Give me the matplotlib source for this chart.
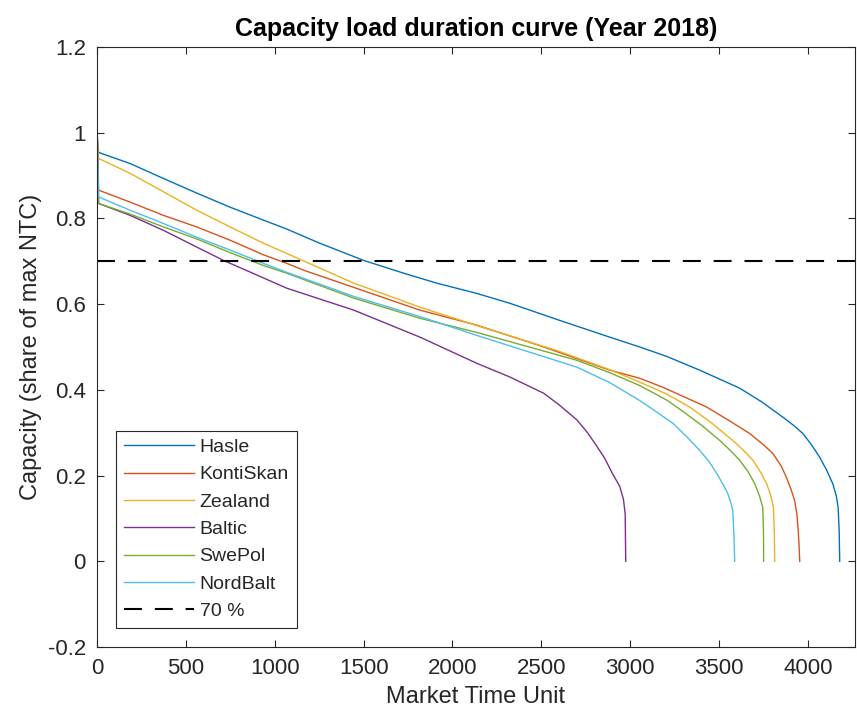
import matplotlib
matplotlib.use('Agg')
import matplotlib.pyplot as plt
from matplotlib import font_manager

# Data (market time units vs share of max NTC)
hasle_x = [0, 9, 187, 375, 562, 750, 937, 1069, 1254, 1501, 1727, 1912, 2137, 2323,
           2604, 2885, 3054, 3206, 3391, 3616, 3740, 3860, 3920, 3972, 4020, 4066,
           4105, 4140, 4160, 4170, 4176, 4179]
hasle_y = [1.0, 0.954, 0.928, 0.893, 0.859, 0.826, 0.796, 0.775, 0.742, 0.702, 0.672,
           0.649, 0.625, 0.602, 0.562, 0.523, 0.50, 0.478, 0.446, 0.404, 0.372, 0.336,
           0.317, 0.298, 0.272, 0.243, 0.213, 0.181, 0.152, 0.126, 0.07, 0.0]

kontiskan_x = [0, 9, 187, 375, 562, 750, 937, 1069, 1164, 1445, 1817, 2137, 2514, 2885,
               3054, 3184, 3430, 3550, 3673, 3750, 3804, 3850, 3879, 3905, 3925, 3938,
               3944, 3950, 3954]
kontiskan_y = [1.0, 0.866, 0.838, 0.807, 0.78, 0.749, 0.715, 0.695, 0.679, 0.639, 0.586,
               0.551, 0.5, 0.446, 0.427, 0.406, 0.36, 0.33, 0.298, 0.272, 0.251, 0.222,
               0.196, 0.168, 0.142, 0.11, 0.08, 0.04, 0.0]

zealand_x = [0, 9, 187, 375, 562, 750, 937, 1069, 1445, 1817, 2137, 2600, 2885, 3054,
             3206, 3335, 3460, 3577, 3640, 3690, 3735, 3768, 3790, 3806, 3811, 3813]
zealand_y = [1.0, 0.94, 0.905, 0.862, 0.819, 0.78, 0.742, 0.718, 0.649, 0.593, 0.55,
             0.49, 0.447, 0.418, 0.39, 0.36, 0.322, 0.282, 0.258, 0.236, 0.207, 0.181,
             0.155, 0.126, 0.07, 0.0]

baltic_x = [0, 9, 187, 375, 562, 712, 844, 1069, 1445, 1817, 2137, 2323, 2514, 2600,
            2700, 2760, 2810, 2857, 2900, 2941, 2962, 2972, 2975]
baltic_y = [1.0, 0.835, 0.807, 0.772, 0.733, 0.702, 0.678, 0.637, 0.586, 0.523, 0.462,
            0.43, 0.392, 0.365, 0.33, 0.30, 0.27, 0.24, 0.205, 0.175, 0.145, 0.11, 0.0]

swepol_x = [0, 9, 187, 375, 562, 750, 937, 1069, 1445, 1817, 2137, 2700, 2885, 3054,
            3206, 3279, 3400, 3504, 3565, 3616, 3665, 3701, 3728, 3746, 3750, 3751]
swepol_y = [1.0, 0.835, 0.81, 0.78, 0.752, 0.72, 0.69, 0.672, 0.614, 0.567, 0.534,
            0.469, 0.44, 0.41, 0.376, 0.355, 0.318, 0.282, 0.258, 0.236, 0.208, 0.181,
            0.152, 0.126, 0.07, 0.0]

nordbalt_x = [0, 9, 187, 375, 562, 750, 937, 1069, 1445, 1817, 2137, 2700, 2885, 3054,
              3150, 3240, 3320, 3391, 3445, 3487, 3522, 3549, 3568, 3577, 3584, 3588]
nordbalt_y = [1.0, 0.85, 0.819, 0.788, 0.756, 0.726, 0.695, 0.674, 0.618, 0.571, 0.527,
              0.453, 0.417, 0.375, 0.348, 0.322, 0.29, 0.259, 0.232, 0.205, 0.18, 0.158,
              0.135, 0.119, 0.06, 0.0]

labels = ['Hasle', 'KontiSkan', 'Zealand', 'Baltic', 'SwePol', 'NordBalt']
colors = ['#0072BD', '#D95319', '#EDB120', '#7E2F8E', '#77AC30', '#4DBEEE']
threshold = 0.7

names = {f.name for f in font_manager.fontManager.ttflist}
base_font = 'Liberation Sans'
title_font = 'Liberation Sans Narrow' if 'Liberation Sans Narrow' in names else base_font

plt.rcParams['font.family'] = [base_font, 'DejaVu Sans']
txt = '#262626'

fig = plt.figure(figsize=(8.57, 7.24), dpi=100)
ax = fig.add_axes([97 / 857, 77 / 724, 758 / 857, 600 / 724])

series = [(hasle_x, hasle_y), (kontiskan_x, kontiskan_y), (zealand_x, zealand_y),
          (baltic_x, baltic_y), (swepol_x, swepol_y), (nordbalt_x, nordbalt_y)]
for (x, y), lab, c in zip(series, labels, colors):
    ax.plot(x, y, color=c, linewidth=1.0, label=lab)

ax.axhline(threshold, color='black', linewidth=1.5, linestyle=(0, (8.6, 6.2)),
           label='70 %')

ax.set_xlim(0, 4265)
ax.set_ylim(-0.2, 1.2)
ax.set_xticks([0, 500, 1000, 1500, 2000, 2500, 3000, 3500, 4000])
ax.set_yticks([-0.2, 0, 0.2, 0.4, 0.6, 0.8, 1.0, 1.2])
ax.set_yticklabels(['-0.2', '0', '0.2', '0.4', '0.6', '0.8', '1', '1.2'])
ax.tick_params(direction='in', top=True, right=True, length=5, width=0.8,
               labelsize=16, colors=txt, labelcolor=txt, pad=8)
for s in ax.spines.values():
    s.set_color(txt)
    s.set_linewidth(0.8)

ax.set_xlabel('Market Time Unit', fontsize=17, color=txt, labelpad=5)
ax.set_ylabel('Capacity (share of max NTC)', fontsize=17, color=txt, labelpad=4)
ax.set_title('Capacity load duration curve (Year 2018)', fontsize=18,
             fontweight='bold', family=[title_font, 'DejaVu Sans'], pad=8)

leg = ax.legend(loc='lower left', bbox_to_anchor=(0.025, 0.032), borderaxespad=0,
                fontsize=14, handlelength=3.6, labelspacing=0.5, fancybox=False,
                framealpha=1, edgecolor=txt, handletextpad=0.3, borderpad=0.4)
leg.get_frame().set_linewidth(0.8)
for t in leg.get_texts():
    t.set_color(txt)

fig.savefig('out.png', dpi=100)
